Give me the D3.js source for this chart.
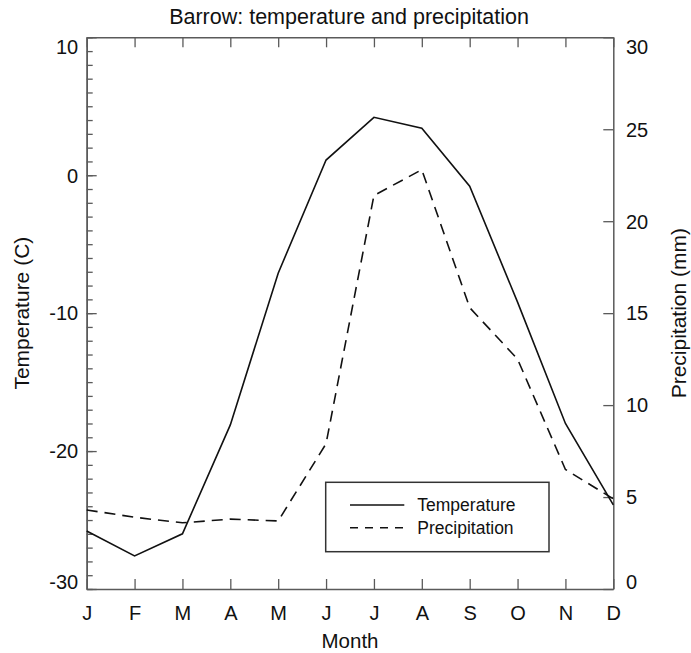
<!DOCTYPE html>
<html>
<head>
<meta charset="utf-8">
<script src="https://cdn.jsdelivr.net/npm/d3@7"></script>
<style>
  html, body { margin: 0; padding: 0; background: #fff; }
  svg { display: block; font-family: "Liberation Sans", Arial, Helvetica, sans-serif; }
</style>
</head>
<body>
<svg id="chart" width="691" height="653"></svg>
<script>
// Monthly climate normals for Barrow, Alaska
const months = ["J", "F", "M", "A", "M", "J", "J", "A", "S", "O", "N", "D"];
const temperature = [-25.8, -27.6, -26.0, -18.1, -7.1, 1.1, 4.2, 3.4, -0.8, -9.2, -18.0, -23.9];
const precipitation = [4.3, 3.9, 3.6, 3.8, 3.7, 7.9, 21.4, 22.8, 15.3, 12.5, 6.5, 4.9];
const tempTicks = [-30, -20, -10, 0, 10];
const precipTicks = [0, 5, 10, 15, 20, 25, 30];
const seriesNames = ["Temperature", "Precipitation"];

const svg = d3.select("#chart");
const plotLeft = 86.7, plotRight = 613.3, plotTop = 37.3, plotBottom = 589;
const frameColor = "#5a5a5a";
const plain = d => String(d); // ASCII hyphen for negatives

const x = d3.scalePoint().domain(d3.range(months.length)).range([plotLeft, plotRight]);
const yT = d3.scaleLinear().domain([-30, 10]).range([plotBottom, plotTop]);
const yP = d3.scaleLinear().domain([0, 30]).range([plotBottom, plotTop]);

function styleAxis(g) {
  g.selectAll("path.domain").attr("stroke", frameColor).attr("stroke-width", 1.5);
  g.selectAll(".tick line").attr("stroke", frameColor).attr("stroke-width", 1.3);
  g.selectAll("text").attr("fill", "#111").style("font-family", "Liberation Sans, Arial, sans-serif");
}

// Left axis: minor ticks every degree, major every 10
svg.append("g").attr("transform", `translate(${plotLeft},0)`)
  .call(d3.axisLeft(yT).tickValues(d3.range(-30, 11, 1)).tickSize(-6).tickSizeOuter(0).tickFormat(""))
  .call(styleAxis);
const leftAxis = svg.append("g").attr("transform", `translate(${plotLeft},0)`)
  .call(d3.axisLeft(yT).tickValues(tempTicks).tickSize(-10).tickSizeOuter(0).tickPadding(8.5).tickFormat(plain))
  .call(styleAxis);
leftAxis.selectAll("text").attr("font-size", 20)
  .attr("dy", d => d === 10 ? "0.8em" : d === -30 ? "-0.04em" : "0.34em");

// Right axis
const rightAxis = svg.append("g").attr("transform", `translate(${plotRight},0)`)
  .call(d3.axisRight(yP).tickValues(precipTicks).tickSize(-10).tickSizeOuter(0).tickPadding(12.7).tickFormat(plain))
  .call(styleAxis);
rightAxis.selectAll("text").attr("font-size", 20)
  .attr("dy", d => d === 30 ? "0.8em" : d === 0 ? "-0.04em" : "0.34em");

// Top axis (ticks only)
svg.append("g").attr("transform", `translate(0,${plotTop})`)
  .call(d3.axisTop(x).tickSize(-10).tickSizeOuter(0).tickFormat(""))
  .call(styleAxis);

// Bottom axis with month initials
const bottomAxis = svg.append("g").attr("transform", `translate(0,${plotBottom})`)
  .call(d3.axisBottom(x).tickSize(-10).tickSizeOuter(0).tickPadding(17).tickFormat(i => months[i]))
  .call(styleAxis);
bottomAxis.selectAll("text").attr("font-size", 20);

// Series lines
const lineT = d3.line().x((d, i) => x(i)).y(d => yT(d));
const lineP = d3.line().x((d, i) => x(i)).y(d => yP(d));

svg.append("path").datum(precipitation)
  .attr("d", lineP).attr("fill", "none").attr("stroke", "#111")
  .attr("stroke-width", 1.6).attr("stroke-dasharray", "11,7");
svg.append("path").datum(temperature)
  .attr("d", lineT).attr("fill", "none").attr("stroke", "#111")
  .attr("stroke-width", 1.6);

// Legend
const legend = svg.append("g");
legend.append("rect").attr("x", 325.7).attr("y", 482.3).attr("width", 223.3).attr("height", 69.4)
  .attr("fill", "#fff").attr("stroke", "#333").attr("stroke-width", 1.5);
const legendRows = [{ name: seriesNames[0], dash: null }, { name: seriesNames[1], dash: "8,7" }];
legendRows.forEach((r, i) => {
  const yy = 505 + i * 22.7;
  legend.append("line").attr("x1", 350).attr("x2", 404.3).attr("y1", yy).attr("y2", yy)
    .attr("stroke", "#111").attr("stroke-width", 1.6).attr("stroke-dasharray", r.dash);
  legend.append("text").attr("x", 417.3).attr("y", yy).attr("dy", "0.36em")
    .attr("font-size", 17.5).attr("fill", "#111").text(r.name);
});

// Titles
svg.append("text").attr("x", 349).attr("y", 24).attr("text-anchor", "middle")
  .attr("font-size", 21.5).attr("fill", "#111").text("Barrow: temperature and precipitation");
svg.append("text").attr("x", 350).attr("y", 648).attr("text-anchor", "middle")
  .attr("font-size", 20.5).attr("fill", "#111").text("Month");
svg.append("text").attr("transform", `translate(29,${(plotTop + plotBottom) / 2}) rotate(-90)`)
  .attr("text-anchor", "middle").attr("font-size", 21).attr("fill", "#111").text("Temperature (C)");
svg.append("text").attr("transform", `translate(686,${(plotTop + plotBottom) / 2}) rotate(-90)`)
  .attr("text-anchor", "middle").attr("font-size", 21).attr("fill", "#111").text("Precipitation (mm)");
</script>
</body>
</html>
